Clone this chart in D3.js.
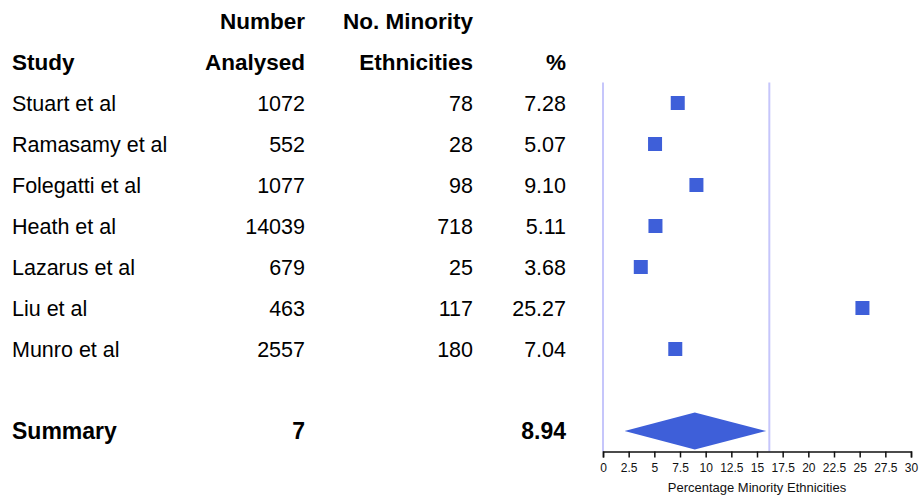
<!DOCTYPE html>
<html>
<head>
<meta charset="utf-8">
<script src="https://cdn.jsdelivr.net/npm/d3@7"></script>
<style>
	body { margin: 0; background: #fff; }
	svg { display: block; font-family: "Liberation Sans", Arial, sans-serif; }
</style>
</head>
<body>
<svg id="chart" width="921" height="496"></svg>
<script>
// data
const studies = ["Stuart et al", "Ramasamy et al", "Folegatti et al", "Heath et al", "Lazarus et al", "Liu et al", "Munro et al"];
const analysed = [1072, 552, 1077, 14039, 679, 463, 2557];
const minority = [78, 28, 98, 718, 25, 117, 180];
const percent = ["7.28", "5.07", "9.10", "5.11", "3.68", "25.27", "7.04"];

const summaryLabel = "Summary";
const summaryStudies = 7;
const summaryPercent = 8.94;
const summaryCI = [2.1, 15.9];
const refLines = [0, 16.2];

const xTicks = [0, 2.5, 5, 7.5, 10, 12.5, 15, 17.5, 20, 22.5, 25, 27.5, 30];
const xTitle = "Percentage Minority Ethnicities";

// definicion
const blue = "#3e5fd9";

const svg = d3.select('#chart');

// row positions: headers at -2, -1, studies 0..6, summary 8
const y = d3.scaleLinear().domain([0, 1]).range([103, 144]);
const summaryRow = studies.length + 1;

const x = d3.scaleLinear().domain([0, 30]).range([603, 911]);

// columns
const cols = [
	{head: ["", "Study"], x: 12, anchor: "start"},
	{head: ["Number", "Analysed"], x: 305, anchor: "end"},
	{head: ["No. Minority", "Ethnicities"], x: 473, anchor: "end"},
	{head: ["", "%"], x: 566, anchor: "end"},
];

// headers
cols.forEach(c => {
	c.head.forEach((t, i) => {
		svg.append("text")
			.attr("x", c.x)
			.attr("y", y(i - 2) + 8)
			.attr("text-anchor", c.anchor)
			.attr("font-size", 22.5)
			.attr("font-weight", "bold")
			.text(t);
	});
});

// study rows
const rows = studies.map((s, i) => [s, analysed[i], minority[i], percent[i]]);

rows.forEach((r, i) => {
	r.forEach((v, j) => {
		svg.append("text")
			.attr("x", cols[j].x)
			.attr("y", y(i) + 8)
			.attr("text-anchor", cols[j].anchor)
			.attr("font-size", 21.5)
			.text(v);
	});
});

// summary row
[summaryLabel, summaryStudies, "", summaryPercent.toFixed(2)].forEach((v, j) => {
	svg.append("text")
		.attr("x", cols[j].x)
		.attr("y", y(summaryRow) + 8)
		.attr("text-anchor", cols[j].anchor)
		.attr("font-size", 23)
		.attr("font-weight", "bold")
		.text(v);
});

// reference lines
const plotTop = y(-0.5);
const plotBottom = y(summaryRow + 0.5);

svg.append("g")
	.selectAll("line")
	.data(refLines)
	.join("line")
	.attr("x1", d => x(d))
	.attr("x2", d => x(d))
	.attr("y1", plotTop)
	.attr("y2", plotBottom)
	.attr("stroke", "#c6c6fb")
	.attr("stroke-width", 2);

// squares
const sq = 14;
svg.append("g")
	.selectAll("rect")
	.data(percent)
	.join("rect")
	.attr("x", d => x(+d) - sq / 2)
	.attr("y", (d, i) => y(i) - sq / 2)
	.attr("width", sq)
	.attr("height", sq)
	.attr("fill", blue);

// summary diamond
const cy = y(summaryRow);
const dh = 18.5;
svg.append("path")
	.attr("d", d3.line()([
		[x(summaryCI[0]), cy],
		[x(summaryPercent), cy - dh],
		[x(summaryCI[1]), cy],
		[x(summaryPercent), cy + dh],
	]) + "Z")
	.attr("fill", blue);

// axis
const axis = svg.append("g")
	.attr("transform", `translate(0, ${plotBottom})`)
	.call(d3.axisBottom(x)
		.tickValues(xTicks)
		.tickFormat(d => d)
		.tickSize(6)
		.tickSizeOuter(6)
		.tickPadding(6));

axis.select(".domain").attr("stroke", "#111").attr("stroke-width", 1.5);
axis.selectAll(".tick line").attr("stroke", "#111").attr("stroke-width", 1.5);
axis.selectAll(".tick text")
	.attr("font-size", 12)
	.attr("font-family", "\"Liberation Sans\", Arial, sans-serif")
	.attr("fill", "#111");

svg.append("text")
	.attr("x", (x.range()[0] + x.range()[1]) / 2)
	.attr("y", plotBottom + 40)
	.attr("text-anchor", "middle")
	.attr("font-size", 13)
	.attr("fill", "#111")
	.text(xTitle);
</script>
</body>
</html>
